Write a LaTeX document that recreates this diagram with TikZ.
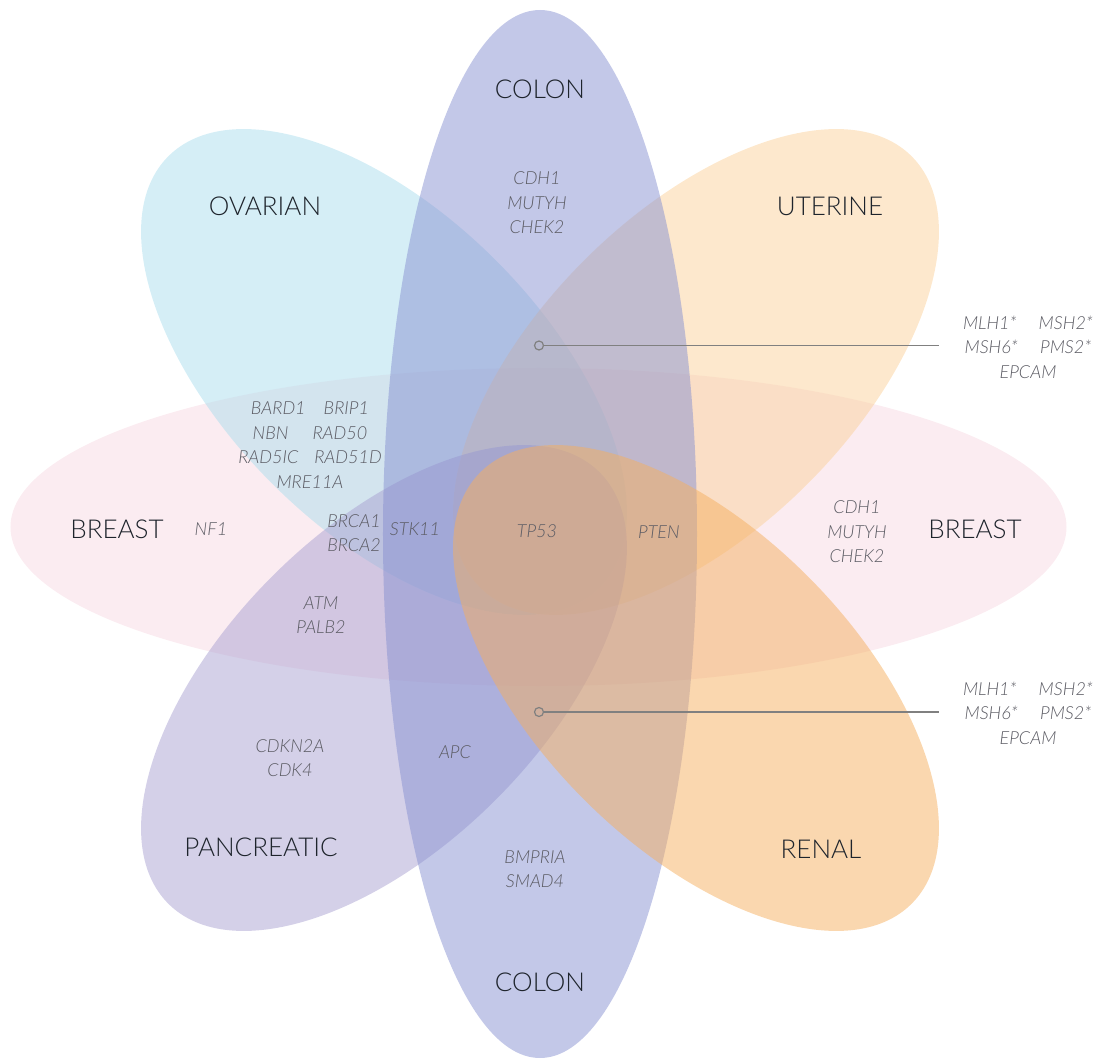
\documentclass[tikz,border=0pt]{standalone}
\usepackage{fontspec}
\setmainfont{Lato Light}
\usetikzlibrary{positioning}

\definecolor{breastfill}{RGB}{247,217,227}
\definecolor{ovarianfill}{RGB}{171,221,237}
\definecolor{uterinefill}{RGB}{251,209,155}
\definecolor{pancreasfill}{RGB}{169,161,209}
\definecolor{colonfill}{RGB}{135,145,209}
\definecolor{renalfill}{RGB}{245,175,95}
\definecolor{organtext}{RGB}{30,36,44}
\definecolor{genetext}{RGB}{92,92,100}
\definecolor{leadergray}{RGB}{128,128,128}

\begin{document}
\begin{tikzpicture}[
  x=1pt, y=1pt,
  petal/.style = {fill opacity=0.5},
  organ/.style = {text=organtext, font=\fontsize{26}{30}\selectfont},
  gene/.style = {text=genetext, align=center, font=\itshape\fontsize{18}{24.5}\selectfont},
  leader/.style = {draw=leadergray, line width=1.4pt},
  dot/.style = {circle, draw=leadergray, line width=1.2pt, inner sep=0pt, minimum size=9pt}
]

  \useasboundingbox (-540,-530) rectangle (560,530);

  % Petals (back to front)
  \fill[petal, breastfill] (-1.5,3) ellipse [x radius=528, y radius=159];
  \fill[petal, ovarianfill, rotate around={-45:(-156,158)}] (-156,158) ellipse [x radius=305, y radius=158];
  \fill[petal, uterinefill, rotate around={45:(156,158)}] (156,158) ellipse [x radius=305, y radius=158];
  \fill[petal, pancreasfill, rotate around={45:(-156,-158)}] (-156,-158) ellipse [x radius=305, y radius=158];
  \fill[petal, colonfill] (0,-4) ellipse [x radius=157, y radius=524];
  \fill[petal, renalfill, rotate around={-45:(156,-158)}] (156,-158) ellipse [x radius=305, y radius=158];

  % Organ labels
  \node[organ] (colontop) at (0,441) {COLON};
  \node[organ] (colonbot) at (0,-452) {COLON};
  \node[organ] (ovarian) at (-275,324) {OVARIAN};
  \node[organ] (uterine) at (290,324) {UTERINE};
  \node[organ] (breastleft) at (-423,1) {BREAST};
  \node[organ] (breastright) at (435,1) {BREAST};
  \node[organ] (pancreatic) at (-279,-317) {PANCREATIC};
  \node[organ] (renal) at (281,-319) {RENAL};

  % Genes
  \node[gene] (colongenes) at (-3,327) {CDH1\\MUTYH\\CHEK2};
  \node[gene] (ovbreast) at (-230,85) {BARD1\hspace{18pt}BRIP1\\NBN\hspace{24pt}RAD50\\RAD5IC\hspace{16pt}RAD51D\\MRE11A};
  \node[gene] (nf1) at (-329,1) {NF1};
  \node[gene] (brca) at (-186,-3) {BRCA1\\BRCA2};
  \node[gene] (stk11) at (-125,1) {STK11};
  \node[gene] (tp53) at (-3,-1) {TP53};
  \node[gene] (pten) at (119,-2) {PTEN};
  \node[gene] (breastgenes) at (317,-2) {CDH1\\MUTYH\\CHEK2};
  \node[gene] (atm) at (-219,-85) {ATM\\PALB2};
  \node[gene] (cdkn) at (-250,-228) {CDKN2A\\CDK4};
  \node[gene] (apc) at (-85,-222) {APC};
  \node[gene] (smad) at (-5,-339) {BMPRIA\\SMAD4};

  % Lynch callouts
  \node[dot] (msitop) at (-1,184.5) {};
  \coordinate (msitopend) at (398.6,184.5);
  \draw[leader] (msitop) -- (msitopend);
  \node[gene] (lynchtop) at (488,183) {MLH1*\hspace{22pt}MSH2*\\MSH6*\hspace{22pt}PMS2*\\EPCAM};

  \node[dot] (msibot) at (-1,-182) {};
  \coordinate (msibotend) at (398.6,-182);
  \draw[leader] (msibot) -- (msibotend);
  \node[gene] (lynchbot) at (488,-183) {MLH1*\hspace{22pt}MSH2*\\MSH6*\hspace{22pt}PMS2*\\EPCAM};

\end{tikzpicture}
\end{document}
